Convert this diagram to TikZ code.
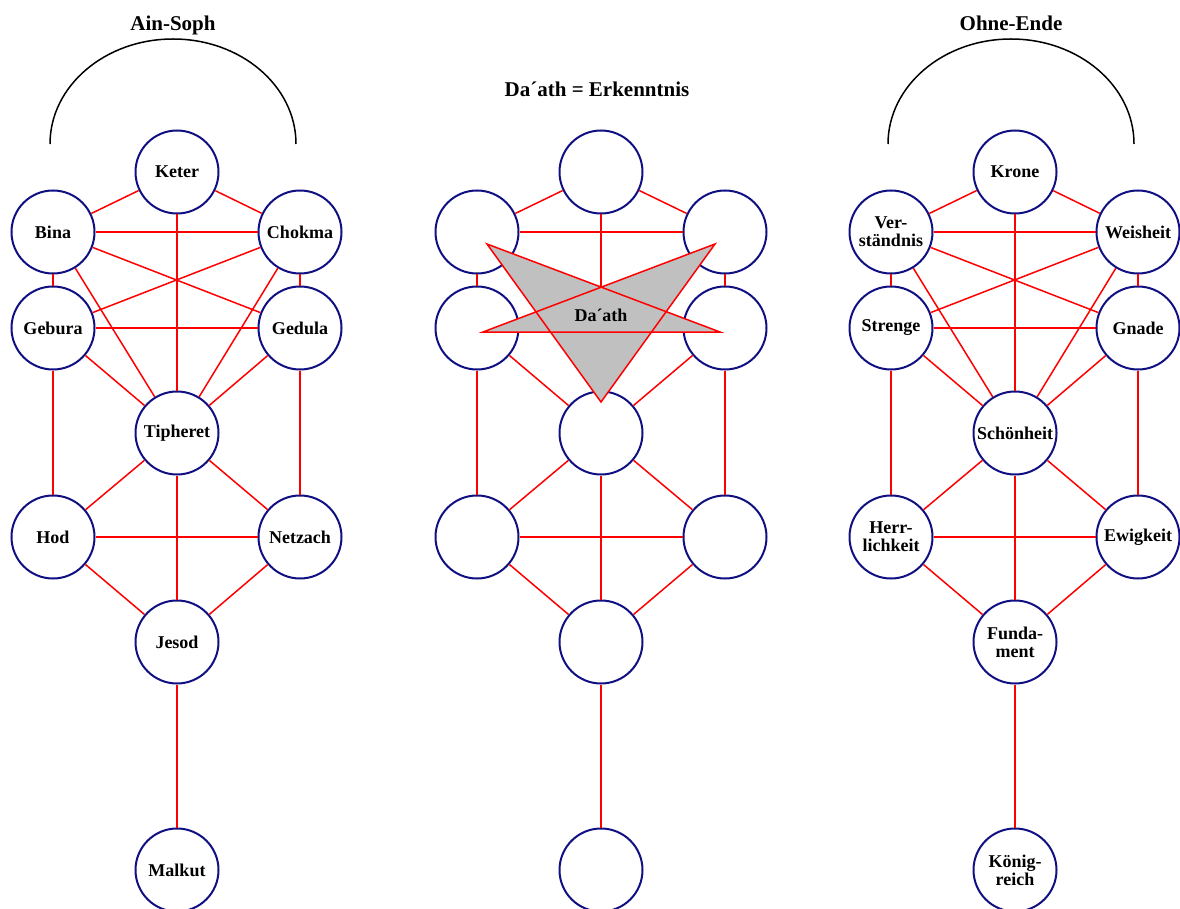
\documentclass[tikz,border=0pt]{standalone}
\usepackage{fontspec}
\setmainfont{Liberation Serif}
\definecolor{navyc}{RGB}{16,16,130}
\definecolor{starfill}{RGB}{192,192,192}
\tikzset{
  sephira/.style={circle, draw=navyc, line width=2pt, fill=white, minimum size=83pt, inner sep=0pt, align=center, font=\fontsize{18}{18}\selectfont\bfseries},
  pathline/.style={draw=red, line width=1.5pt},
  titletext/.style={anchor=base, inner sep=0pt, font=\fontsize{21}{24}\selectfont\bfseries},
  halo/.style={draw=black, line width=1.5pt},
  starshape/.style={draw=red, line width=1.5pt, fill=starfill, line join=miter}
}
\newcommand{\commonpaths}[1]{%
  \draw[pathline] (#1k) -- (#1b);
  \draw[pathline] (#1k) -- (#1c);
  \draw[pathline] (#1k) -- (#1t);
  \draw[pathline] (#1b) -- (#1c);
  \draw[pathline] (#1b) -- (#1g);
  \draw[pathline] (#1c) -- (#1d);
  \draw[pathline] (#1g) -- (#1t);
  \draw[pathline] (#1g) -- (#1h);
  \draw[pathline] (#1d) -- (#1t);
  \draw[pathline] (#1d) -- (#1n);
  \draw[pathline] (#1t) -- (#1h);
  \draw[pathline] (#1t) -- (#1n);
  \draw[pathline] (#1t) -- (#1j);
  \draw[pathline] (#1h) -- (#1n);
  \draw[pathline] (#1h) -- (#1j);
  \draw[pathline] (#1n) -- (#1j);
  \draw[pathline] (#1j) -- (#1m);
}
\newcommand{\crosspaths}[1]{%
  \draw[pathline] (#1b) -- (#1d);
  \draw[pathline] (#1c) -- (#1g);
  \draw[pathline] (#1b) -- (#1t);
  \draw[pathline] (#1c) -- (#1t);
  \draw[pathline] (#1g) -- (#1d);
}
\begin{document}
\begin{tikzpicture}[x=1pt,y=-1pt]
\useasboundingbox (0,0) rectangle (1180,909);

% titles
\node[titletext] (tL) at (173,31) {Ain-Soph};
\node[titletext] (tM) at (597,97) {Da´ath = Erkenntnis};
\node[titletext] (tR) at (1011,31) {Ohne-Ende};

% arcs
\draw[halo] (50,144) arc[start angle=180, end angle=360, x radius=123, y radius=105];
\draw[halo] (888,144) arc[start angle=180, end angle=360, x radius=123, y radius=105];

% left tree
\node[sephira] (Lk) at (177,172) {Keter};
\node[sephira] (Lb) at (53,232) {Bina};
\node[sephira] (Lc) at (300,232) {Chokma};
\node[sephira] (Lg) at (53,328) {Gebura};
\node[sephira] (Ld) at (300,328) {Gedula};
\node[sephira] (Lt) at (177,433) {Tipheret};
\node[sephira] (Lh) at (53,537) {Hod};
\node[sephira] (Ln) at (300,537) {Netzach};
\node[sephira] (Lj) at (177,642) {Jesod};
\node[sephira] (Lm) at (177,870) {Malkut};

% middle tree
\node[sephira] (Mk) at (601,172) {};
\node[sephira] (Mb) at (477,232) {};
\node[sephira] (Mc) at (725,232) {};
\node[sephira] (Mg) at (477,328) {};
\node[sephira] (Md) at (725,328) {};
\node[sephira] (Mt) at (601,433) {};
\node[sephira] (Mh) at (477,537) {};
\node[sephira] (Mn) at (725,537) {};
\node[sephira] (Mj) at (601,642) {};
\node[sephira] (Mm) at (601,870) {};

% right tree
\node[sephira] (Rk) at (1015,172) {Krone};
\node[sephira] (Rb) at (891,232) {Ver-\\ständnis};
\node[sephira] (Rc) at (1138,232) {Weisheit};
\node[sephira] (Rg) at (891,328) {Strenge};
\node[sephira] (Rd) at (1138,328) {Gnade};
\node[sephira] (Rt) at (1015,433) {Schönheit};
\node[sephira] (Rh) at (891,537) {Herr-\\lichkeit};
\node[sephira] (Rn) at (1138,537) {Ewigkeit};
\node[sephira] (Rj) at (1015,642) {Funda-\\ment};
\node[sephira] (Rm) at (1015,870) {König-\\reich};

\commonpaths{L}
\crosspaths{L}
\commonpaths{M}
\commonpaths{R}
\crosspaths{R}

% Da'ath star
\coordinate (sA) at (487,244);
\coordinate (sB) at (715,244);
\coordinate (sC) at (601,402);
\coordinate (sD) at (483,332);
\coordinate (sE) at (720,332);
\draw[starshape] (sA) -- (sC) -- (sB) -- (sD) -- (sE) -- cycle;
\node[anchor=base, inner sep=0pt, font=\fontsize{18}{18}\selectfont\bfseries] (daath) at (601,321) {Da´ath};
\end{tikzpicture}
\end{document}
